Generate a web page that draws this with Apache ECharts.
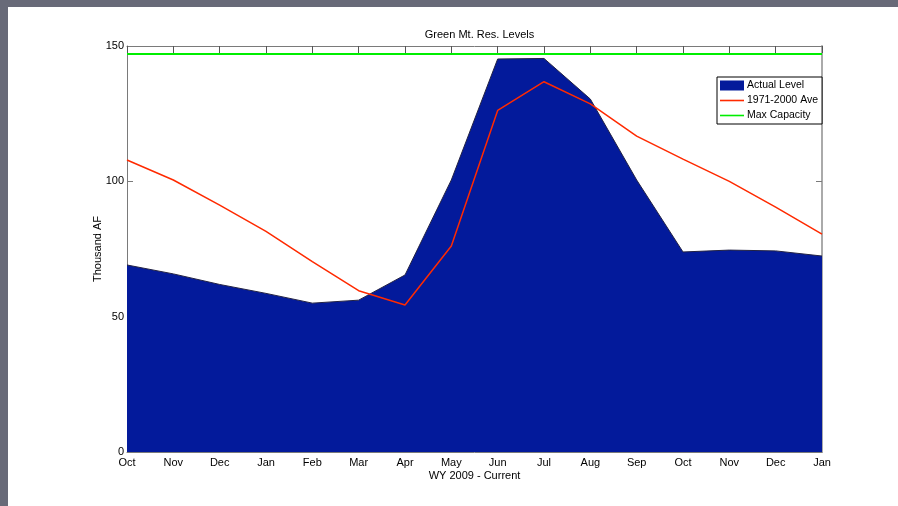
<!DOCTYPE html>
<html>
<head>
<meta charset="utf-8">
<script src="https://cdn.jsdelivr.net/npm/echarts@6/dist/echarts.min.js"></script>
<style>
html,body{margin:0;padding:0;background:#fff;}
#c{width:898px;height:506px;}
</style>
</head>
<body>
<div id="c"></div>
<script>
const months = ['Oct','Nov','Dec','Jan','Feb','Mar','Apr','May','Jun','Jul','Aug','Sep','Oct','Nov','Dec','Jan'];
const actualLevel = [69.1, 65.8, 61.9, 58.6, 55.0, 56.1, 65.4, 100.5, 145.2, 145.4, 130.4, 100.5, 73.9, 74.6, 74.3, 72.4];
const average = [107.9, 100.5, 91.2, 81.5, 70.3, 59.6, 54.3, 76.1, 126.2, 136.8, 128.6, 116.7, 108.2, 100.0, 90.5, 80.5];
const maxCapacity = [147, 147, 147, 147, 147, 147, 147, 147, 147, 147, 147, 147, 147, 147, 147, 147];
const yTicks = [0, 50, 100, 150];

const chart = echarts.init(document.getElementById('c'), null, {renderer:'canvas'});
const font = 'Liberation Sans, Arial, sans-serif';
const axisGray = '#7a7a7a';
const lineIcon = 'path://M0,0 L24,0 L24,1.6 L0,1.6 Z';
chart.setOption({
  animation: false,
  backgroundColor: '#ffffff',
  textStyle: {fontFamily: font},
  title: {
    text: 'Green Mt. Res. Levels',
    left: 474.5, textAlign: 'center', top: 24,
    textStyle: {fontSize: 11, fontWeight: 'normal', color: '#000', fontFamily: font}
  },
  legend: {
    orient: 'vertical',
    left: 717, top: 77,
    backgroundColor: '#fff',
    borderColor: '#000', borderWidth: 1, borderRadius: 0,
    padding: [3, 4, 3, 3],
    itemGap: 4,
    itemWidth: 24, itemHeight: 10,
    symbolKeepAspect: true,
    textStyle: {fontSize: 10.5, color: '#000', fontFamily: font, padding: [0, 0, 0, -2]},
    data: [
      {name: 'Actual Level', icon: 'rect'},
      {name: '1971-2000 Ave', icon: lineIcon},
      {name: 'Max Capacity', icon: lineIcon}
    ]
  },
  graphic: [
    {type: 'rect', shape: {x: 0, y: 0, width: 8, height: 506}, style: {fill: '#686a78'}, z: 100},
    {type: 'rect', shape: {x: 0, y: 0, width: 898, height: 7}, style: {fill: '#686a78'}, z: 100}
  ],
  grid: {left: 127, right: 76, top: 46, bottom: 54, containLabel: false},
  xAxis: [
    {
      type: 'category', data: months, boundaryGap: false, position: 'bottom',
      name: 'WY 2009 - Current', nameLocation: 'middle', nameGap: 18, nameMoveOverlap: false,
      nameTextStyle: {fontSize: 11, color: '#000', fontFamily: font},
      axisLine: {onZero: false, lineStyle: {color: axisGray}},
      axisTick: {show: false},
      axisLabel: {fontSize: 11, color: '#000', margin: 5, interval: 0, fontFamily: font},
      splitLine: {show: false}
    },
    {
      type: 'category', data: months, boundaryGap: false, position: 'top',
      axisLine: {onZero: false, lineStyle: {color: axisGray}},
      axisTick: {show: true, inside: true, length: 7, interval: 0, lineStyle: {color: '#555'}},
      axisLabel: {show: false},
      splitLine: {show: false}
    }
  ],
  yAxis: [
    {
      type: 'value', min: 0, max: 150, interval: 50, position: 'left',
      name: 'Thousand AF', nameLocation: 'middle', nameGap: 24, nameRotate: 90, nameMoveOverlap: false,
      nameTextStyle: {fontSize: 11, color: '#000', fontFamily: font},
      axisLine: {show: true, onZero: false, lineStyle: {color: axisGray}},
      axisTick: {show: true, inside: true, length: 6, lineStyle: {color: axisGray}},
      axisLabel: {fontSize: 11, color: '#000', margin: 3, fontFamily: font,
        formatter: v => yTicks.indexOf(v) >= 0 ? String(v) : ''},
      splitLine: {show: false}
    },
    {
      type: 'value', min: 0, max: 150, interval: 50, position: 'right',
      axisLine: {show: true, onZero: false, lineStyle: {color: '#aaa', width: 2}},
      axisTick: {show: true, inside: true, length: 6, lineStyle: {color: axisGray}},
      axisLabel: {show: false},
      splitLine: {show: false}
    }
  ],
  series: [
    {
      name: 'Actual Level', type: 'line', data: actualLevel,
      symbol: 'none', color: '#031a9b',
      lineStyle: {color: '#222244', width: 1},
      areaStyle: {color: '#031a9b', opacity: 1},
      z: 2
    },
    {
      name: '1971-2000 Ave', type: 'line', data: average,
      symbol: 'none', color: '#ff2a00',
      lineStyle: {color: '#ff2a00', width: 1.5},
      z: 3
    },
    {
      name: 'Max Capacity', type: 'line', data: maxCapacity,
      symbol: 'none', color: '#00ee00',
      lineStyle: {color: '#00ee00', width: 2},
      z: 4
    }
  ]
});
</script>
</body>
</html>
